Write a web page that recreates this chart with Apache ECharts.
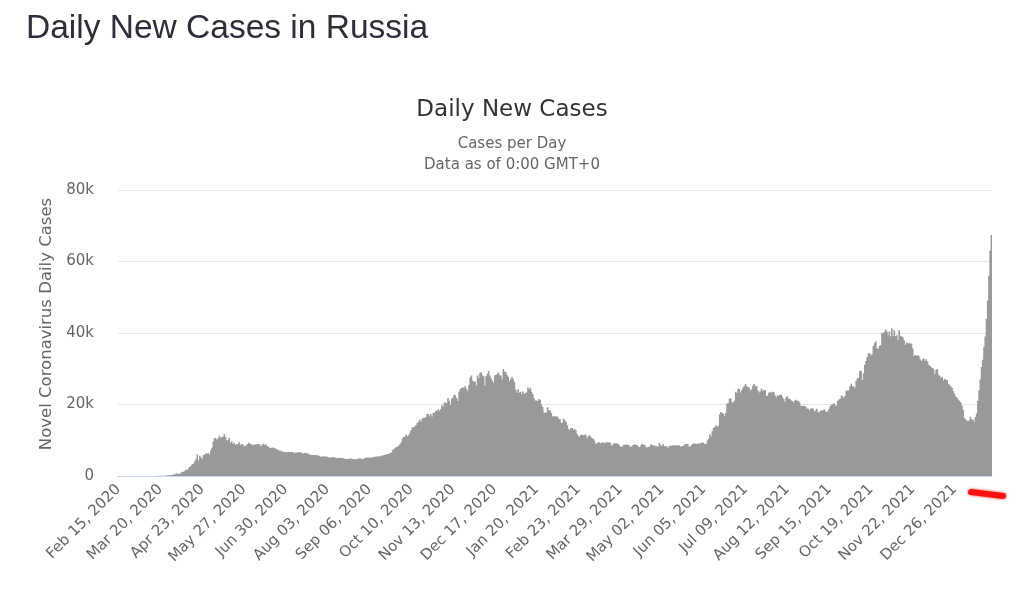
<!DOCTYPE html>
<html>
<head>
<meta charset="utf-8">
<script src="https://cdn.jsdelivr.net/npm/echarts@6/dist/echarts.min.js"></script>
<style>
html,body{margin:0;padding:0;background:#fff;}
#chart{width:1024px;height:591px;}
</style>
</head>
<body>
<div id="chart"></div>
<script>
// First day of the series (categories are consecutive days from here)
var startDate = [2020, 1, 15]; // Feb 15, 2020
var yTicks = [0, 20000, 40000, 60000, 80000];

// Daily new cases, Feb 15 2020 .. Dec 31 2020
var cases2020 = [
  0,0,0,0,0,0,0,0,0,0,0,0,0,0,0,
  0,1,0,0,1,6,2,3,4,3,8,6,17,14,4,30,21,33,52,54,53,61,71,57,163,182,196,228,270,302,500,
  440,771,601,582,658,954,1154,1175,1459,1786,1667,2186,2558,2774,3388,3448,4070,4785,6060,4268,5642,5236,4774,5849,5966,6361,6198,6411,5841,7099,
  7933,9623,10633,10581,10102,10559,11231,10699,10817,11012,11656,10899,10028,9974,10598,9200,9709,8926,9263,8764,8849,8894,9434,8599,8946,8915,8338,8371,8572,8952,9268,
  9035,8863,8536,8831,8726,8855,8984,8985,8595,8404,8779,8987,8706,8835,8246,8248,7843,7790,7972,7889,7728,7600,7425,7176,7113,7075,6852,6791,6719,6693,
  6556,6760,6718,6632,6736,6611,6368,6562,6509,6635,6611,6615,6537,6248,6422,6428,6406,6234,6109,5940,5842,5862,5848,5811,5871,5765,5635,5395,5475,5509,5482,
  5462,5427,5394,5159,5204,5267,5241,5212,5189,5118,4945,5102,5057,5061,5076,4921,4839,4748,4790,4767,4870,4921,4852,4676,4696,4744,4711,4829,4980,4897,4729,
  4729,4952,5110,5185,5205,5195,5099,5185,5218,5363,5406,5449,5488,5529,5509,5670,5762,5905,5944,6065,6148,6196,6431,6595,7212,7523,7867,8135,8232,8481,
  8945,9412,10499,10888,10888,11615,11115,11493,12126,12846,13634,13592,13868,14231,14922,15150,15700,15099,15982,16319,16202,16521,17340,17347,16710,17347,16550,17717,17717,18283,18140,
  18665,18257,18648,19768,19404,20582,20498,20396,21798,20977,19851,21608,21983,22702,22572,21798,20977,23610,24318,24581,24822,24581,25173,24326,23675,25487,27543,28145,26683,26338,
  26402,25345,28145,27403,28782,29039,28142,27927,25345,27927,28585,29350,28137,27328,26689,26097,28214,28209,28552,28948,28209,28137,27039,29935,29258,29018,28284,27787,26513,27039,27747
];

// Jan 1 2021 .. Dec 31 2021
var cases2021 = [
  27039,26301,24150,23351,24246,23309,23541,22851,23652,22851,23315,23351,24763,24217,24715,23586,22857,21734,21127,21152,20986,21513,21262,20000,19290,17741,17648,17741,19238,18241,18359,
  17648,16643,16714,16688,16643,16627,16048,15916,14861,14928,16064,15498,15150,14185,13233,12828,13433,13447,12953,13233,12742,11749,11198,11022,11534,11571,11393,11534,
  11534,10565,11022,11385,11024,10595,10407,9908,9079,9079,9445,9437,9149,9299,9437,9079,9393,9445,9399,9445,9299,8457,8769,9128,9128,9073,9088,8769,8277,8277,8277,
  8769,8683,8885,8646,8711,8120,8286,8474,8806,8806,8702,8632,8173,8124,8632,9016,8738,8699,8053,8053,8173,8163,8780,8754,8367,8632,8277,8328,8271,9270,
  8697,8407,8951,8295,8373,8217,7770,8419,8554,8419,8632,8554,8604,8600,8554,8632,8307,8217,8373,8632,8951,8951,8951,8217,8217,8632,8951,9063,9032,8951,9052,
  9145,9022,9327,9397,9262,8947,8984,9936,10407,11699,11057,12505,13397,13721,14185,13721,14057,17262,17906,17611,17378,16715,17594,20182,20393,21665,21650,20538,20616,21042,
  23543,23218,24439,24353,23378,23962,24702,25152,25766,25082,24856,24702,23962,24293,25293,25704,25082,25142,23947,23351,23704,24471,23811,24072,24072,22408,22498,23270,23564,23270,23564,
  23508,22589,21932,22589,22470,22660,22804,22160,21571,20765,21932,22277,21624,21624,21183,20992,20564,21058,21316,21058,20992,20538,19630,19509,19630,19630,19286,18856,18780,18325,18780,
  18985,18780,18080,18341,18811,17856,17856,18341,18341,18341,18645,18103,17837,18077,18841,19594,19905,20174,20329,19731,19706,20959,21379,21559,22498,22236,21908,22430,23888,23888,
  23888,25110,25781,25133,25133,24522,26550,27246,27436,29409,29362,26862,28717,31085,32196,33304,34303,34325,33740,34073,36339,37141,37678,35660,35660,36446,36582,40096,39849,40251,40993,
  40402,39400,40443,39008,41335,39165,40735,39160,39400,38058,40759,39256,39008,38823,37930,36626,37374,37156,37120,37120,36970,35681,33558,33860,33558,33860,33548,32648,32136,32602,
  32930,32136,32648,32005,31096,30752,30393,30209,29929,28486,29558,29929,28363,27967,27434,27743,26689,27180,26820,26820,25713,25516,25056,24703,23721,22989,22236,21922,21430,21073,20616
];

// Jan 1 2022 .. Jan 25 2022
var cases2022 = [
  19751,18496,16246,15830,15541,15316,15541,16579,15890,15830,15179,16500,17500,21000,24000,27000,30500,32500,36000,39000,44000,49000,56000,63000,67400
];

var values = cases2020.concat(cases2021, cases2022);

var monthNames = ['Jan','Feb','Mar','Apr','May','Jun','Jul','Aug','Sep','Oct','Nov','Dec'];
var categories = [];
(function(){
  var t0 = Date.UTC(startDate[0], startDate[1], startDate[2]);
  for (var i = 0; i < values.length; i++) {
    var d = new Date(t0 + i * 86400000);
    var dd = d.getUTCDate();
    categories.push(monthNames[d.getUTCMonth()] + ' ' + (dd < 10 ? '0' + dd : dd) + ', ' + d.getUTCFullYear());
  }
})();

var chart = echarts.init(document.getElementById('chart'), null, {renderer: 'canvas'});
var FONT = '"DejaVu Sans", sans-serif';
chart.setOption({
  animation: false,
  backgroundColor: '#ffffff',
  title: [
    {
      text: 'Daily New Cases in Russia',
      left: 21, top: 7,
      textStyle: {fontFamily: '"Liberation Sans", Arial, sans-serif', fontSize: 33.5, fontWeight: 'normal', color: '#2e2e3a'}
    },
    {
      text: 'Daily New Cases',
      left: 'center', top: 94,
      textStyle: {fontFamily: FONT, fontSize: 23, fontWeight: 'normal', color: '#333333'},
      subtext: 'Cases per Day\nData as of 0:00 GMT+0',
      itemGap: 12,
      subtextStyle: {fontFamily: FONT, fontSize: 15, color: '#666666', lineHeight: 21}
    }
  ],
  grid: {left: 118, right: 32, top: 190, bottom: 115, containLabel: false},
  xAxis: {
    type: 'category',
    data: categories,
    boundaryGap: true,
    axisLine: {show: true, lineStyle: {color: '#ccd6eb', width: 1}},
    axisTick: {show: false},
    axisLabel: {
      interval: 33,
      rotate: 45,
      margin: 11,
      fontFamily: FONT,
      fontSize: 15,
      color: '#666666'
    },
    splitLine: {show: false}
  },
  yAxis: {
    type: 'value',
    min: yTicks[0],
    max: yTicks[yTicks.length - 1],
    interval: yTicks[1] - yTicks[0],
    name: 'Novel Coronavirus Daily Cases',
    nameLocation: 'middle',
    nameGap: 63,
    nameTextStyle: {fontFamily: FONT, fontSize: 16.5, color: '#666666', padding: [0, 0, 0, 18]},
    axisLine: {show: false},
    axisTick: {show: false},
    axisLabel: {
      fontFamily: FONT, fontSize: 15, color: '#666666', margin: 24,
      formatter: function (v) { return v === 0 ? '0' : (v / 1000) + 'k'; }
    },
    splitLine: {lineStyle: {color: '#e6e6e6', width: 1}}
  },
  series: [{
    type: 'bar',
    data: values,
    large: true,
    largeThreshold: 100,
    barWidth: 1.6,
    itemStyle: {color: '#999999'},
    emphasis: {disabled: true}
  }],
  graphic: [{
    type: 'line',
    shape: {x1: 971, y1: 492, x2: 1003, y2: 496},
    style: {stroke: '#ff1111', lineWidth: 6, lineCap: 'round', shadowBlur: 3, shadowColor: 'rgba(255,0,0,0.8)'},
    silent: true
  }]
});
</script>
</body>
</html>
